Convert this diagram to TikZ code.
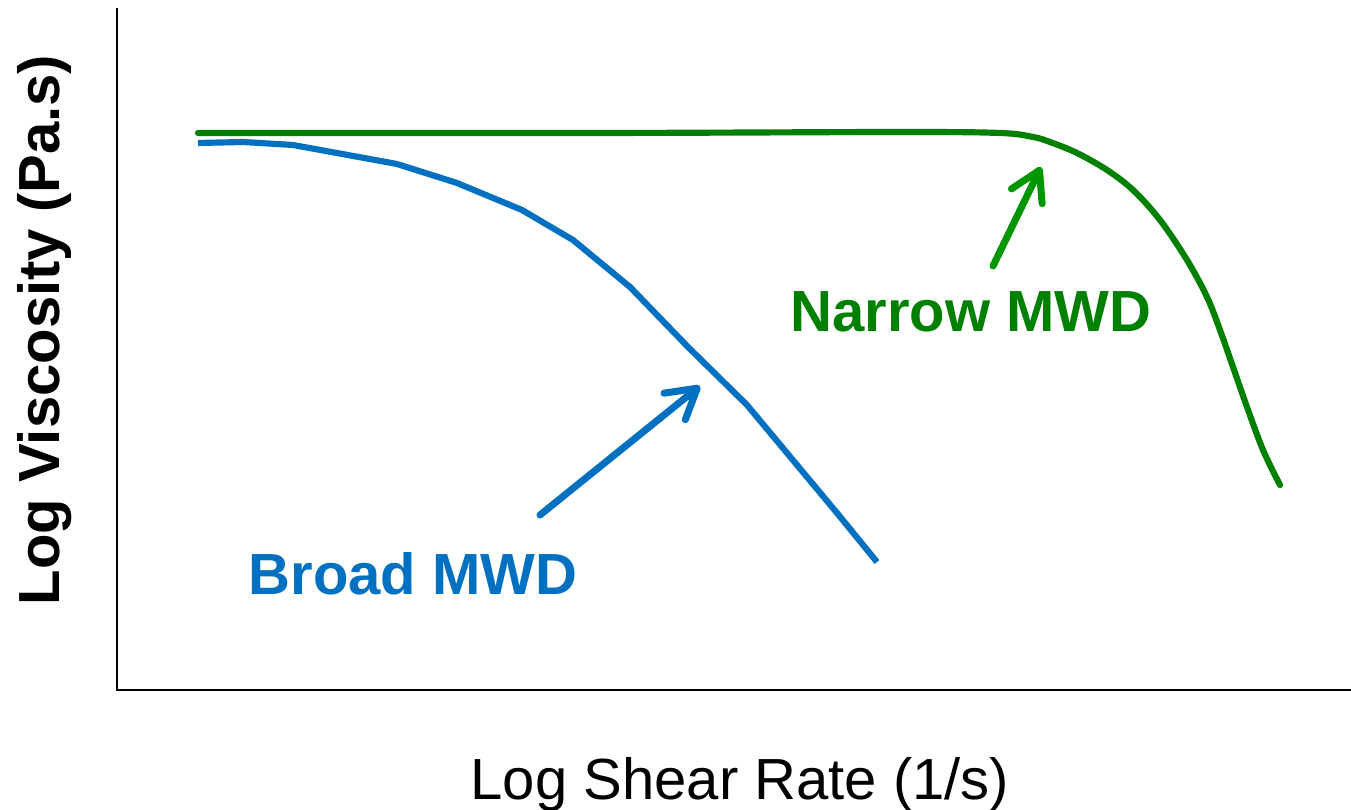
\documentclass[tikz,border=0pt]{standalone}
\usepackage{fontspec}
\setmainfont{Liberation Sans}
\usetikzlibrary{arrows.meta}
\definecolor{broadblue}{RGB}{0,112,192}
\definecolor{narrowgreen}{RGB}{0,128,0}
\definecolor{arrowgreen}{RGB}{0,150,0}
\begin{document}
\begin{tikzpicture}[x=0.01cm,y=-0.01cm,
  axisline/.style={line width=0.75pt,black},
  curve/.style={line width=1.75pt,line join=round},
  pointer/.style={line width=2pt,line cap=round,
    -{Straight Barb[length=2.9mm,width=3.4mm,round]}},
  lbl/.style={font=\fontsize{16.5}{20}\selectfont\bfseries,anchor=base,inner sep=0pt},
  axlbl/.style={font=\fontsize{16.5}{20}\selectfont,anchor=base,inner sep=0pt}]
\useasboundingbox (0,0) rectangle (1351,810);

% axes
\coordinate (ytop) at (117,8);
\coordinate (origin) at (117,690);
\coordinate (xend) at (1351,690);
\draw[axisline] (ytop) -- (origin) -- (xend);

% axis titles
\node[axlbl,font=\fontsize{16.5}{20}\selectfont\bfseries,rotate=90] (ylab) at (60,330) {Log Viscosity (Pa.s)};
\node[axlbl] (xlab) at (740,800) {Log Shear Rate (1/s)};

% narrow distribution: long Newtonian plateau, late shear thinning
\draw[curve,narrowgreen,line cap=round] plot[smooth,tension=0.55] coordinates {
  (198,133) (600,133) (900,132) (1000,133) (1033,137) (1050,142) (1077,153)
  (1107,170) (1133,190) (1160,220) (1187,260) (1207,297) (1220,330)
  (1233,367) (1247,407) (1263,450) (1280,485)};

% broad distribution: early onset of shear thinning
\draw[curve,broadblue] (198,143) -- (243,142) -- (293,145) -- (397,164)
  -- (457,183) -- (522,210) -- (573,240) -- (630,287) -- (688,347)
  -- (747,405) -- (837,513) -- (877,562);

% labels and pointers
\node[lbl,broadblue] (broad) at (413,595) {Broad MWD};
\node[lbl,narrowgreen] (narrow) at (971,332) {Narrow MWD};

\coordinate (broadtail) at (540,515);
\coordinate (broadtip) at (700,386);
\coordinate (narrowtail) at (993,266);
\coordinate (narrowtip) at (1041,167);
\draw[pointer,broadblue] (broadtail) -- (broadtip);
\draw[pointer,arrowgreen] (narrowtail) -- (narrowtip);
\end{tikzpicture}
\end{document}
